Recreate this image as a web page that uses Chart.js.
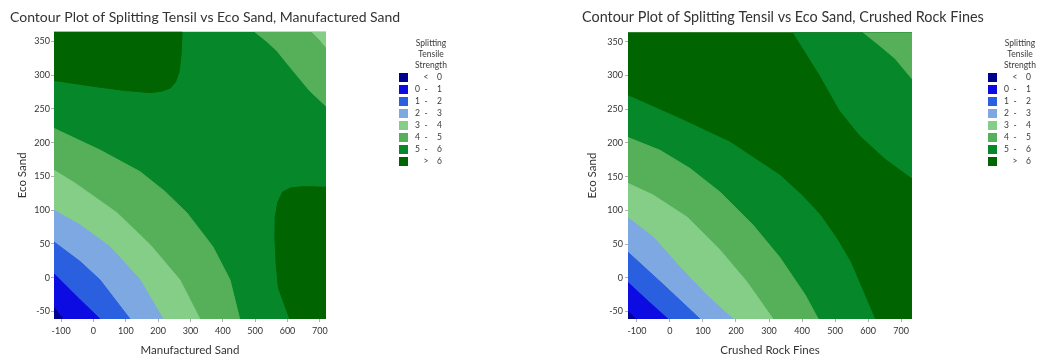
<!DOCTYPE html>
<html>
<head>
<meta charset="utf-8">
<title>Splitting Tensile Strength contour plots</title>
<script src="https://cdn.jsdelivr.net/npm/chart.js@4.4.1/dist/chart.umd.min.js"></script>
<style>
  body { margin: 0; background: #fff; }
  #page { position: relative; width: 1043px; height: 361px; overflow: hidden; }
  #page canvas { position: absolute; top: 0; }
  .key { position: absolute; font: 8.5px Lato, sans-serif; color: #3a3a3a; }
  .key-title { position: absolute; width: 70px; text-align: center; line-height: 11px; }
  .key-row { position: absolute; height: 9px; line-height: 9px; }
  .key-row i { position: absolute; left: 0; top: 0; width: 9px; height: 9px; }
  .key-row span { position: absolute; top: 0; width: 12px; }
  .lo { left: 9px; text-align: right; }
  .sep { left: 21px; text-align: center; }
  .hi { left: 38px; text-align: left; }
</style>
</head>
<body>
<div id="page">
  <canvas id="sandChart" width="520" height="361" style="left:0"></canvas>
  <canvas id="rockChart" width="523" height="361" style="left:520px"></canvas>
</div>
<script>
// Strength bands shared by both plots
const strengthBands = ['< 0', '0 - 1', '1 - 2', '2 - 3', '3 - 4', '4 - 5', '5 - 6', '> 6'];
const bandColors = ['#00008e', '#0c0ce2', '#2a60e0', '#7ea8e2', '#84ce88', '#56b05a', '#06882a', '#006400'];

const ecoRange = [-61, 364];
const ecoTicks = [-50, 0, 50, 100, 150, 200, 250, 300, 350];
const xTicks = [-100, 0, 100, 200, 300, 400, 500, 600, 700];

// Eco Sand vs Manufactured Sand
const sandRange = [-122, 719];
const sandLine0 = [[-122, -44], [-94, -61]];
const sandLine1 = [[-122, 6], [-51, -28], [20, -61]];
const sandLine2 = [[-122, 53], [-41, 24], [20, -3], [113, -61]];
const sandLine3 = [[-122, 100], [-41, 78], [51, 46], [144, -3], [215, -61]];
const sandLine4 = [[-122, 159], [-57, 140], [73, 96], [175, 49], [267, -3], [329, -61]];
const sandLine5 = [[-122, 221], [20, 189], [144, 157], [220, 128], [289, 96], [369, 46], [422, -3], [452, -61]];
const sandTopLeft6 = [[-122, 364], [274, 364], [271, 330], [265, 305], [254, 290], [238, 281], [210, 276], [175, 274], [100, 277], [20, 282], [-122, 292]];
const sandRight6 = [[719, 134], [650, 135], [610, 133], [585, 127], [570, 112], [562, 90], [561, 60], [565, 20], [572, -15], [607, -61]];
const sandTopRight5 = [[499, 364], [535, 350], [567, 336], [616, 307], [668, 277], [719, 254]];
const sandTopRight4 = [[675, 364], [700, 352], [719, 341]];

// Eco Sand vs Crushed Rock Fines
const rockRange = [-127, 733];
const rockLine0 = [[-127, -50], [-103, -61]];
const rockLine1 = [[-127, -7], [-65, -35], [-6, -61]];
const rockLine2 = [[-127, 38], [-20, -10], [91, -61]];
const rockLine3 = [[-127, 89], [-50, 60], [30, 16], [110, -25], [191, -61]];
const rockLine4 = [[-127, 140], [-52, 123], [52, 90], [152, 41], [233, -6], [312, -61]];
const rockLine5 = [[-127, 208], [-30, 189], [61, 162], [152, 127], [252, 78], [333, 30], [409, -25], [449, -61]];
const rockLine6 = [[-127, 270], [30, 236], [182, 201], [333, 152], [400, 122], [455, 93], [505, 58], [546, 24], [620, -61]];
const rockTopRight6 = [[373, 364], [409, 336], [455, 300], [515, 248], [576, 211], [652, 177], [733, 148]];
const rockTopRight5 = [[585, 364], [636, 344], [682, 325], [733, 295]];

// close a contour line into a region through one corner of the plot
function region(line, corner) {
    return line.concat([corner]);
}

function rect(xr, yr) {
    return [[xr[0], yr[0]], [xr[1], yr[0]], [xr[1], yr[1]], [xr[0], yr[1]]];
}

function contourChart(id, cfg) {
    const n = cfg.layers.length;
    // layers are listed bottom to top, so later ones get a lower order
    const datasets = cfg.layers.map((layer, i) => ({
        data: layer.points.map(([x, y]) => ({ x, y })),
        backgroundColor: bandColors[layer.band],
        borderColor: bandColors[layer.band],
        borderWidth: 1,
        fill: 'shape',
        showLine: true,
        pointRadius: 0,
        tension: 0,
        clip: 0,
        order: n - i
    }));

    const tickFont = { family: 'Lato', size: 9 };
    const titleFont = { family: 'Lato', size: 11.5 };

    new Chart(document.getElementById(id), {
        type: 'scatter',
        data: { datasets },
        options: {
            responsive: false,
            animation: false,
            events: [],
            layout: { padding: { left: cfg.padLeft, right: 0, top: 0, bottom: 0 } },
            plugins: {
                legend: { display: false },
                tooltip: { enabled: false },
                title: {
                    display: true,
                    text: cfg.title,
                    align: 'start',
                    color: '#333',
                    font: { family: 'Lato', size: cfg.titleSize, weight: 'normal' },
                    padding: { top: 9, bottom: 6 }
                }
            },
            scales: {
                x: {
                    type: 'linear',
                    min: cfg.xRange[0],
                    max: cfg.xRange[1],
                    afterBuildTicks: s => { s.ticks = xTicks.map(v => ({ value: v })); },
                    afterFit: s => { s.height = 42; },
                    ticks: { color: '#333', font: tickFont, padding: 4, maxRotation: 0, callback: v => String(v) },
                    grid: { drawOnChartArea: false, tickLength: 3, color: '#b0b0b0' },
                    border: { display: false },
                    title: { display: true, text: cfg.xTitle, color: '#333', font: titleFont, padding: { top: 0, bottom: 4 } }
                },
                y: {
                    type: 'linear',
                    min: ecoRange[0],
                    max: ecoRange[1],
                    afterBuildTicks: s => { s.ticks = ecoTicks.map(v => ({ value: v })); },
                    afterFit: s => { s.width = cfg.yWidth; },
                    ticks: { color: '#333', font: tickFont, padding: cfg.yTickPad, callback: v => String(v) },
                    grid: { drawOnChartArea: false, tickLength: 3, color: '#b0b0b0' },
                    border: { display: false },
                    title: { display: true, text: 'Eco Sand', color: '#333', font: titleFont, padding: { top: cfg.yTitlePad, bottom: 0 } }
                },
                // empty axis on the right keeps room for the strength key
                keySpace: {
                    type: 'linear',
                    position: 'right',
                    display: true,
                    ticks: { display: false },
                    grid: { display: false },
                    border: { display: false },
                    afterFit: s => { s.width = cfg.keyWidth; }
                }
            }
        }
    });
}

function strengthKey(left, top) {
    const key = document.createElement('div');
    key.className = 'key';
    key.style.left = left + 'px';
    key.style.top = top + 'px';
    const title = document.createElement('div');
    title.className = 'key-title';
    title.style.left = '-3px';
    title.style.top = '0px';
    title.innerHTML = 'Splitting<br>Tensile<br>Strength';
    key.appendChild(title);
    strengthBands.forEach((label, i) => {
        const row = document.createElement('div');
        row.className = 'key-row';
        row.style.top = (35 + i * 12) + 'px';
        const parts = label.split(' ');
        const lo = parts.length === 3 ? parts[0] : '';
        const sep = parts.length === 3 ? parts[1] : parts[0];
        const hi = parts[parts.length - 1];
        row.innerHTML = '<i style="background:' + bandColors[i] + '"></i>' +
            '<span class="lo">' + lo + '</span><span class="sep">' + sep + '</span><span class="hi">' + hi + '</span>';
        key.appendChild(row);
    });
    document.getElementById('page').appendChild(key);
}

contourChart('sandChart', {
    title: 'Contour Plot of Splitting Tensil vs Eco Sand, Manufactured Sand',
    titleSize: 14,
    xTitle: 'Manufactured Sand',
    xRange: sandRange,
    padLeft: 10,
    yWidth: 44,
    yTickPad: 1,
    yTitlePad: 5,
    keyWidth: 194,
    layers: [
        { band: 6, points: rect(sandRange, ecoRange) },
        { band: 7, points: sandTopLeft6 },
        { band: 7, points: region(sandRight6, [sandRange[1], ecoRange[0]]) },
        { band: 5, points: region(sandTopRight5, [sandRange[1], ecoRange[1]]) },
        { band: 4, points: region(sandTopRight4, [sandRange[1], ecoRange[1]]) },
        { band: 5, points: region(sandLine5, [sandRange[0], ecoRange[0]]) },
        { band: 4, points: region(sandLine4, [sandRange[0], ecoRange[0]]) },
        { band: 3, points: region(sandLine3, [sandRange[0], ecoRange[0]]) },
        { band: 2, points: region(sandLine2, [sandRange[0], ecoRange[0]]) },
        { band: 1, points: region(sandLine1, [sandRange[0], ecoRange[0]]) },
        { band: 0, points: region(sandLine0, [sandRange[0], ecoRange[0]]) }
    ]
});

contourChart('rockChart', {
    title: 'Contour Plot of Splitting Tensil vs Eco Sand, Crushed Rock Fines',
    titleSize: 14.4,
    xTitle: 'Crushed Rock Fines',
    xRange: rockRange,
    padLeft: 62,
    yWidth: 46,
    yTickPad: 2,
    yTitlePad: 3,
    keyWidth: 131,
    layers: [
        { band: 7, points: rect(rockRange, ecoRange) },
        { band: 6, points: region(rockTopRight6, [rockRange[1], ecoRange[1]]) },
        { band: 5, points: region(rockTopRight5, [rockRange[1], ecoRange[1]]) },
        { band: 6, points: region(rockLine6, [rockRange[0], ecoRange[0]]) },
        { band: 5, points: region(rockLine5, [rockRange[0], ecoRange[0]]) },
        { band: 4, points: region(rockLine4, [rockRange[0], ecoRange[0]]) },
        { band: 3, points: region(rockLine3, [rockRange[0], ecoRange[0]]) },
        { band: 2, points: region(rockLine2, [rockRange[0], ecoRange[0]]) },
        { band: 1, points: region(rockLine1, [rockRange[0], ecoRange[0]]) },
        { band: 0, points: region(rockLine0, [rockRange[0], ecoRange[0]]) }
    ]
});

strengthKey(399, 38);
strengthKey(988, 38);
</script>
</body>
</html>
